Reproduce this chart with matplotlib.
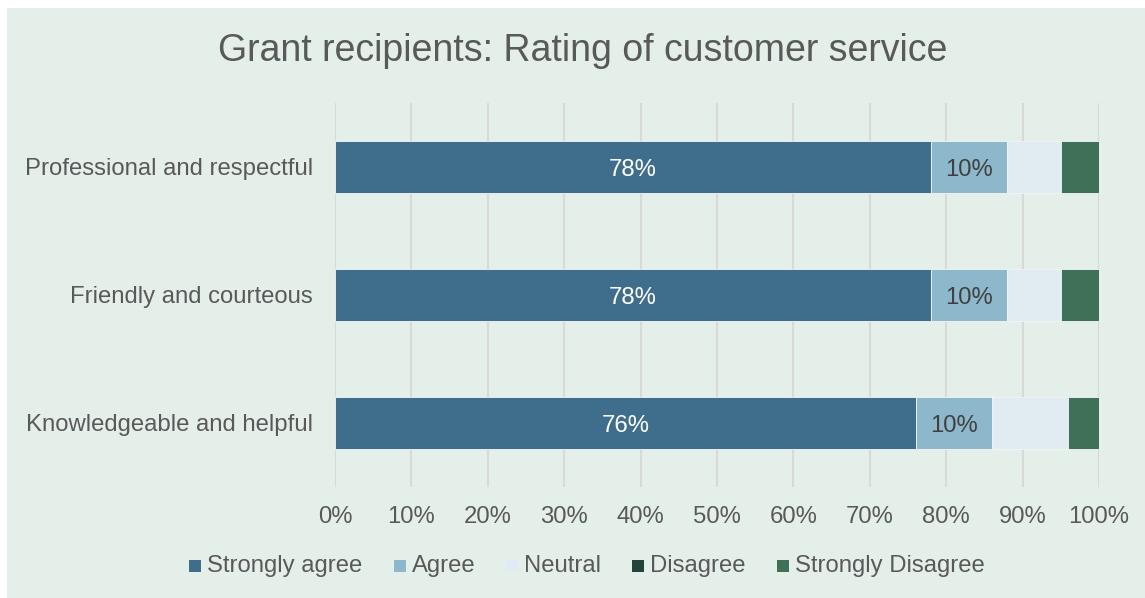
import matplotlib
matplotlib.use("Agg")
import matplotlib.pyplot as plt
from matplotlib.patches import Rectangle
import numpy as np

plt.rcParams['font.family'] = ['Liberation Sans', 'DejaVu Sans']

categories = ["Professional and respectful", "Friendly and courteous", "Knowledgeable and helpful"]
series_names = ["Strongly agree", "Agree", "Neutral", "Disagree", "Strongly Disagree"]
strongly_agree = [78, 78, 76]
agree = [10, 10, 10]
neutral = [7, 7, 10]
disagree = [0, 0, 0]
strongly_disagree = [5, 5, 4.2]
colors = ["#3F6E8C", "#8DB8CB", "#E0ECF1", "#23443A", "#3E7158"]
xticks = [0, 10, 20, 30, 40, 50, 60, 70, 80, 90, 100]

text_color = "#595959"
bg = "#E5EFEA"
W, H = 1145, 598
FS = 17.2

fig = plt.figure(figsize=(W / 100, H / 100), dpi=100)
fig.patch.set_facecolor("white")
fig.patches.append(Rectangle((7 / W, 0), 1 - 7 / W, 1 - 8 / H,
                             transform=fig.transFigure, facecolor=bg, edgecolor="none", zorder=-10))

ax = fig.add_axes([335 / W, 1 - 487 / H, (1099 - 335) / W, 384 / H])
ax.set_facecolor("none")
ax.set_zorder(2)

data = [strongly_agree, agree, neutral, disagree, strongly_disagree]
y = np.arange(len(categories))
left = np.zeros(len(categories))
for name, vals, c in zip(series_names, data, colors):
    vals = np.array(vals, dtype=float)
    ax.barh(y, vals, left=left, height=0.4, color=c, label=name,
            edgecolor="#F2F6F4", linewidth=0.6, zorder=3)
    if name in ("Strongly agree", "Agree"):
        tc = "white" if name == "Strongly agree" else "#404040"
        for yi, l, v in zip(y, left, vals):
            ax.text(l + v / 2, yi, f"{v:.0f}%", ha="center", va="center_baseline",
                    fontsize=FS, color=tc, zorder=4)
    left += vals

ax.set_xlim(0, 100)
ax.set_ylim(len(categories) - 0.5, -0.5)
ax.set_yticks(y)
ax.set_yticklabels(categories, fontsize=FS, color=text_color)
ax.set_xticks(xticks)
ax.set_xticklabels([f"{t}%" for t in xticks], fontsize=FS, color=text_color)
ax.tick_params(axis="both", length=0)
ax.tick_params(axis="x", pad=14)
ax.tick_params(axis="y", pad=16)
ax.grid(axis="x", color="#D9D9D9", linewidth=1.5, zorder=0)
for s in ax.spines.values():
    s.set_visible(False)

fig.text(0.509, 1 - 51 / H, "Grant recipients: Rating of customer service",
         ha="center", va="center", fontsize=27, color=text_color)

# manual legend, laid out with measured text widths
renderer = fig.canvas.get_renderer()
sq = 12
gap_sq_text = 6
gap_items = 31
ly = 566
texts, widths = [], []
for name in series_names:
    t = fig.text(0, 1 - ly / H, name, fontsize=FS, color=text_color, va="center", ha="left")
    texts.append(t)
    widths.append(t.get_window_extent(renderer).width)
total = sum(sq + gap_sq_text + w for w in widths) + gap_items * (len(widths) - 1)
x = 587 - total / 2
for t, w, c in zip(texts, widths, colors):
    fig.patches.append(Rectangle((x / W, 1 - (ly + sq / 2) / H), sq / W, sq / H,
                                 transform=fig.transFigure, facecolor=c, edgecolor="none", zorder=5))
    t.set_x((x + sq + gap_sq_text) / W)
    x += sq + gap_sq_text + w + gap_items

fig.savefig("out.png", dpi=100, facecolor=fig.get_facecolor())
